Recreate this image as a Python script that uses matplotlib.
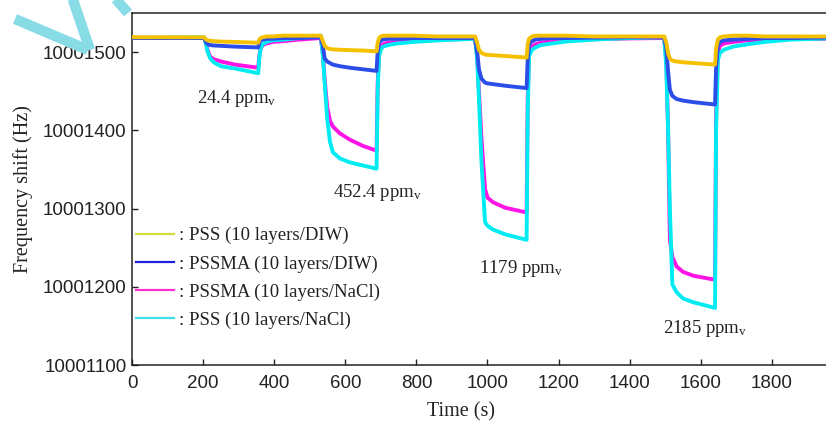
import matplotlib
matplotlib.use('Agg')
import matplotlib.pyplot as plt
from matplotlib.lines import Line2D

# ---------------- data ----------------
time_s = [0, 203,
          208, 213, 220, 230, 250, 290, 355,
          358, 362, 368, 378, 395, 425, 470, 531,
          537, 542, 549, 557, 565, 585, 613, 650, 688,
          691, 695, 700, 706, 720, 745, 790, 860, 965,
          971, 976, 983, 993, 1000, 1016, 1050, 1110,
          1113, 1117, 1125, 1135, 1150, 1180, 1220, 1300, 1400, 1497,
          1503, 1508, 1513, 1520, 1532, 1550, 1580, 1640,
          1643, 1648, 1654, 1665, 1690, 1730, 1780, 1850, 2000]

pss_diw = [10001519, 10001519,
           10001516, 10001515, 10001514.5, 10001514, 10001513.5, 10001513, 10001512,
           10001516, 10001518, 10001519, 10001520, 10001520, 10001521, 10001521, 10001521,
           10001514, 10001508, 10001505, 10001504, 10001503.5, 10001503, 10001502.5, 10001502, 10001501,
           10001512, 10001518, 10001520, 10001521, 10001521, 10001521, 10001521, 10001520, 10001520,
           10001512, 10001503, 10001499, 10001497, 10001496.5, 10001496, 10001495, 10001493,
           10001510, 10001517, 10001520, 10001521, 10001521, 10001521, 10001521, 10001520, 10001520, 10001520,
           10001512, 10001498, 10001492, 10001489, 10001488, 10001487, 10001486, 10001484,
           10001505, 10001516, 10001519, 10001520, 10001521, 10001521, 10001520, 10001520, 10001520]

pssma_diw = [10001518, 10001518,
             10001513, 10001510, 10001509, 10001508.5, 10001508, 10001507, 10001506,
             10001512, 10001515, 10001516, 10001517, 10001517, 10001518, 10001518, 10001519,
             10001508, 10001492, 10001488, 10001486, 10001484, 10001482, 10001480, 10001478, 10001476,
             10001500, 10001512, 10001515, 10001516, 10001517, 10001517, 10001518, 10001518, 10001518,
             10001500, 10001478, 10001466, 10001461, 10001460, 10001459, 10001457, 10001454,
             10001490, 10001510, 10001514, 10001516, 10001517, 10001518, 10001518, 10001518.5, 10001519, 10001519,
             10001505, 10001475, 10001452, 10001444, 10001440, 10001438, 10001436, 10001433,
             10001480, 10001508, 10001513, 10001515, 10001516, 10001517, 10001518, 10001518, 10001519]

pssma_nacl = [10001518, 10001518,
              10001512, 10001502, 10001494, 10001491, 10001488, 10001484, 10001480,
              10001495, 10001505, 10001509, 10001511, 10001513, 10001514, 10001516, 10001518,
              10001498, 10001465, 10001430, 10001412, 10001405, 10001396, 10001388, 10001380, 10001374,
              10001460, 10001500, 10001507, 10001510, 10001512, 10001513, 10001515, 10001516, 10001517,
              10001495, 10001450, 10001390, 10001325, 10001314, 10001308, 10001301, 10001295,
              10001440, 10001500, 10001507, 10001510, 10001512, 10001514, 10001515, 10001516.5, 10001517.5, 10001518,
              10001490, 10001400, 10001260, 10001238, 10001226, 10001219, 10001214, 10001209,
              10001420, 10001500, 10001508, 10001511, 10001513, 10001515, 10001516, 10001517, 10001517]

pss_nacl = [10001518, 10001519,
            10001510, 10001500, 10001492, 10001487, 10001482, 10001479, 10001473,
            10001492, 10001505, 10001510, 10001513, 10001515, 10001516, 10001518, 10001521,
            10001495, 10001460, 10001415, 10001385, 10001372, 10001364, 10001359, 10001355, 10001351,
            10001450, 10001495, 10001503, 10001507, 10001509, 10001511, 10001513, 10001515, 10001517,
            10001490, 10001440, 10001360, 10001283, 10001278, 10001273, 10001267, 10001260,
            10001420, 10001495, 10001503, 10001506, 10001509, 10001511, 10001513.5, 10001516, 10001518, 10001519,
            10001480, 10001400, 10001300, 10001203, 10001193, 10001185, 10001180, 10001173,
            10001400, 10001490, 10001499, 10001503, 10001507, 10001510, 10001513, 10001516, 10001518]

series_labels = [': PSS (10 layers/DIW)', ': PSSMA (10 layers/DIW)',
                 ': PSSMA (10 layers/NaCl)', ': PSS (10 layers/NaCl)']
conc_labels = ['24.4 ppm$_\\mathrm{v}$', '452.4 ppm$_\\mathrm{v}$',
               '1179 ppm$_\\mathrm{v}$', '2185 ppm$_\\mathrm{v}$']
xtick_vals = [0, 200, 400, 600, 800, 1000, 1200, 1400, 1600, 1800]
ytick_vals = [10001100, 10001200, 10001300, 10001400, 10001500]

# ---------------- style ----------------
plt.rcParams['font.family'] = ['Liberation Sans', 'DejaVu Sans']
plt.rcParams['mathtext.fontset'] = 'custom'
plt.rcParams['mathtext.rm'] = 'Liberation Serif'
plt.rcParams['mathtext.it'] = 'Liberation Serif:italic'

curve_colors = ['#f5c000', '#2c4ee8', '#ff14e6', '#00ecf2']
legend_colors = ['#cfe040', '#2020e0', '#ff30d0', '#40e0e8']
curve_z = [5, 4, 2, 3]
serif = ['Liberation Serif', 'DejaVu Serif']

W, H = 826, 422
fig = plt.figure(figsize=(W / 100, H / 100), dpi=100)
ax = fig.add_axes([132 / W, 57 / H, 711 / W, 352 / H])

for vals, c, z in zip([pss_diw, pssma_diw, pssma_nacl, pss_nacl], curve_colors, curve_z):
    ax.plot(time_s, vals, color=c, lw=2.8, zorder=z, solid_joinstyle='round')

ax.set_xlim(0, 2000)
ax.set_ylim(10001100, 10001550)
ax.set_xticks(xtick_vals)
ax.set_yticks(ytick_vals)
ax.set_yticklabels([str(v) for v in ytick_vals])
ax.tick_params(direction='in', length=4, width=1, labelsize=13.5, colors='#222222')
ax.tick_params(axis='x', pad=7)
ax.tick_params(axis='y', pad=4)
for s in ax.spines.values():
    s.set_linewidth(1.1)
    s.set_color('#222222')

ax.set_xlabel('Time (s)', fontsize=14.5, family=serif, color='#222222')
ax.xaxis.set_label_coords(0.4627, -0.105)
ax.set_ylabel('Frequency shift (Hz)', fontsize=14.5, family=serif, color='#222222', labelpad=7)

# concentration annotations
ann_pos = [(183, 10001441), (565, 10001321), (976, 10001224), (1494, 10001147)]
for txt, (x, y) in zip(conc_labels, ann_pos):
    ax.text(x, y, txt, fontsize=13.5, family=serif, ha='left', va='center', color='#222222')

handles = [Line2D([], [], color=c, lw=1.6) for c in legend_colors]
leg = ax.legend(handles, series_labels, loc='upper left', bbox_to_anchor=(0.006, 0.392),
                frameon=False, prop={'family': serif, 'size': 13.5},
                handlelength=2.0, handletextpad=0.3, labelspacing=0.58,
                borderaxespad=0, borderpad=0)
for t in leg.get_texts():
    t.set_color('#222222')

# light cyan watermark strokes in the top-left corner
wm = '#88dce6'
for (x0, y0), (x1, y1) in [((15, 19), (88, 50)), ((72, -3), (90, 50)), ((114, -3), (128, 13))]:
    fig.add_artist(Line2D([x0 / W, x1 / W], [1 - y0 / H, 1 - y1 / H], transform=fig.transFigure,
                          color=wm, lw=7.5, solid_capstyle='butt', zorder=10))

fig.savefig('out.png', dpi=100)
